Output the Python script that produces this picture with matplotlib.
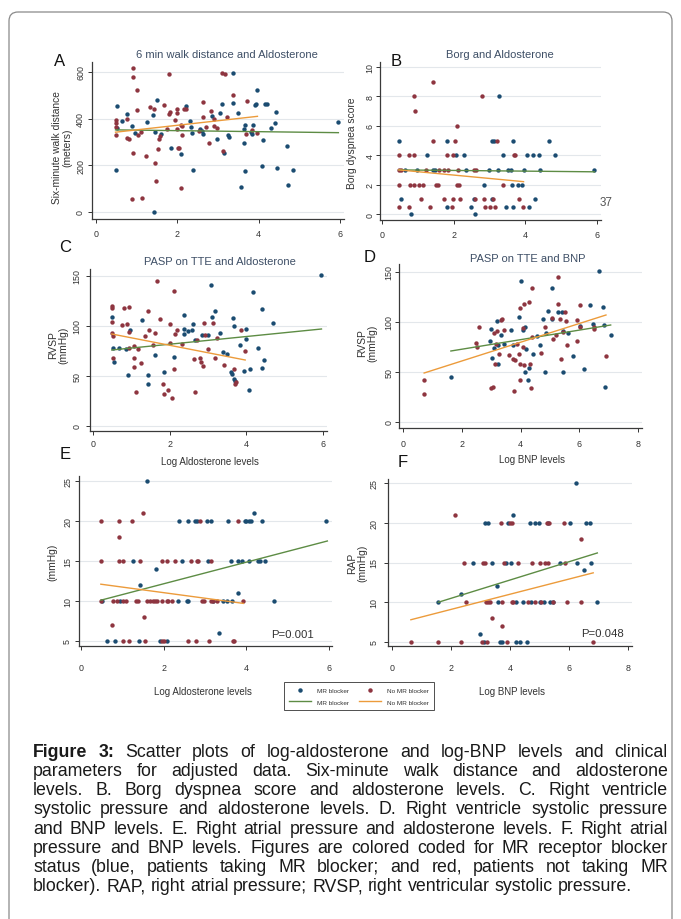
import matplotlib
matplotlib.use("Agg")
import matplotlib.pyplot as plt
from matplotlib.lines import Line2D
from matplotlib.patches import FancyBboxPatch

plt.rcParams["font.family"] = ["Liberation Sans", "DejaVu Sans"]

BLUE, RED = "#1b4c71", "#8e3540"
GREEN, ORANGE = "#5d8c44", "#ec9b3b"
TXT, TITLE = "#333333", "#3e4f66"
W, H = 681, 920

# ---- data (x = log level, y = clinical value) ----
a_mr = [(0.52, 454), (0.48, 179), (0.51, 361), (0.65, 390), (0.75, 421), (0.89, 369), (0.96, 340),
        (1.26, 386), (1.41, 416), (1.49, 479), (1.44, 344), (1.42, 1), (1.61, 333), (1.84, 273),
        (2.10, 247), (2.22, 454), (2.30, 390), (2.34, 364), (2.35, 340), (2.38, 180), (2.56, 354),
        (2.60, 347), (2.62, 333), (2.85, 411), (2.98, 314), (3.05, 423), (3.09, 464), (3.15, 254),
        (3.24, 329), (3.26, 323), (3.36, 469), (3.38, 597), (3.48, 426), (3.57, 107), (3.64, 297),
        (3.67, 371), (3.66, 174), (3.65, 354), (3.82, 343), (3.83, 333), (3.85, 371), (3.91, 457),
        (3.93, 463), (3.97, 523), (4.07, 197), (4.10, 309), (4.16, 464), (4.21, 464), (4.30, 361),
        (4.40, 380), (4.43, 429), (4.44, 190), (4.69, 283), (4.71, 114), (4.85, 179), (5.96, 387)]
a_no = [(0.48, 394), (0.48, 383), (0.48, 364), (0.49, 330), (0.75, 397), (0.77, 319), (0.80, 311),
        (0.92, 619), (0.92, 579), (0.92, 251), (0.89, 57), (1.02, 521), (1.02, 437), (1.03, 330),
        (1.10, 344), (1.14, 60), (1.23, 240), (1.33, 450), (1.43, 440), (1.45, 211), (1.48, 133),
        (1.53, 269), (1.56, 314), (1.57, 326), (1.66, 459), (1.74, 354), (1.80, 590), (1.82, 430),
        (1.80, 419), (1.95, 394), (1.98, 440), (2.00, 423), (2.02, 276), (2.05, 276), (1.98, 357),
        (2.10, 374), (2.12, 330), (2.16, 443), (2.21, 440), (2.08, 104), (2.11, 369), (2.54, 347),
        (2.62, 471), (2.64, 409), (2.70, 366), (2.78, 294), (2.83, 433), (2.89, 400), (2.90, 369),
        (2.97, 361), (3.11, 594), (3.17, 590), (3.13, 261), (3.21, 409), (3.38, 500), (3.72, 476),
        (3.70, 333), (3.83, 351), (3.97, 340)]
a_fit_mr = [(0.48, 352), (5.96, 340)]
a_fit_no = [(0.48, 342), (3.97, 410)]

b_mr = [(0.47, 5), (0.53, 1), (0.65, 3), (0.82, 0), (0.98, 3), (1.26, 4), (1.42, 3), (1.48, 3),
        (1.81, 5), (1.81, 0.5), (2.07, 4), (2.30, 4), (2.35, 3), (2.49, 0.5), (2.56, 1), (2.60, 0),
        (2.84, 2), (2.98, 3), (3.07, 5), (3.13, 5), (3.07, 1), (3.26, 8), (3.23, 3), (3.37, 4),
        (3.47, 0.5), (3.51, 3), (3.60, 3), (3.65, 5), (3.66, 0.5), (3.63, 2), (3.79, 2), (3.91, 2),
        (3.97, 3), (4.05, 4), (4.09, 0.5), (4.20, 4), (4.28, 1), (4.37, 4), (4.42, 3), (4.67, 5),
        (4.84, 4), (5.93, 3)]
b_no = [(0.47, 4), (0.47, 3), (0.52, 3), (0.47, 2), (0.47, 0.5), (0.75, 4), (0.88, 4), (0.90, 8),
        (0.91, 7), (0.79, 2), (0.90, 2), (1.02, 2), (1.14, 2), (1.10, 1), (0.74, 0.5), (1.33, 0.5),
        (1.24, 3), (1.43, 9), (1.43, 5), (1.51, 2), (1.56, 2), (1.72, 1), (1.80, 4), (1.83, 3),
        (1.95, 0.5), (1.98, 4), (1.98, 1), (2.05, 5), (2.09, 6), (2.09, 2), (2.14, 2), (2.19, 1),
        (2.11, 3), (2.59, 1), (2.62, 3), (2.79, 8), (2.84, 1), (2.88, 0.5), (3.02, 0.5), (3.16, 0.5),
        (3.09, 1), (3.21, 5), (3.38, 2), (3.67, 4), (3.72, 4), (3.83, 1), (3.93, 0.5), (2.56, 3),
        (1.72, 3), (1.60, 3)]
b_fit_mr = [(0.47, 3.0), (5.93, 2.87)]
b_fit_no = [(0.47, 3.0), (3.95, 2.2)]

c_mr = [(0.49, 109), (0.53, 78), (0.56, 64), (0.67, 78), (0.86, 77), (0.97, 96), (0.90, 51),
        (1.27, 106), (1.43, 51), (1.43, 42), (1.63, 71), (1.85, 54), (2.10, 69), (2.38, 111),
        (2.37, 97), (2.37, 92), (2.47, 95), (2.57, 96), (2.62, 102), (2.66, 86), (2.85, 91),
        (3.01, 91), (3.07, 141), (3.11, 109), (3.17, 115), (3.31, 93), (3.38, 74), (3.49, 72),
        (3.59, 54), (3.63, 52), (3.66, 108), (3.68, 100), (3.68, 47), (3.70, 45), (3.83, 81),
        (3.95, 55), (3.99, 97), (4.00, 87), (4.08, 36), (4.10, 57), (4.17, 134), (4.31, 78),
        (4.40, 117), (4.42, 58), (4.47, 66), (4.70, 103), (5.96, 151)]
c_no = [(0.49, 120), (0.49, 118), (0.50, 104), (0.50, 93), (0.51, 90), (0.51, 68), (0.76, 101),
        (0.82, 118), (0.89, 102), (0.95, 119), (0.95, 94), (0.95, 78), (1.06, 80), (1.06, 68),
        (1.06, 59), (1.12, 34), (1.17, 77), (1.24, 63), (1.36, 90), (1.44, 115), (1.47, 96),
        (1.57, 81), (1.61, 93), (1.66, 145), (1.75, 107), (1.83, 42), (1.85, 32), (1.96, 36),
        (2.00, 102), (2.02, 83), (2.05, 28), (2.10, 135), (2.11, 57), (2.14, 92), (2.18, 96),
        (2.31, 82), (2.63, 67), (2.66, 34), (2.70, 86), (2.90, 103), (2.79, 68), (2.83, 64),
        (2.88, 60), (2.92, 91), (3.01, 77), (3.14, 103), (3.18, 68), (3.24, 88), (3.42, 61),
        (3.69, 57), (3.71, 42), (3.72, 44), (3.86, 96), (3.97, 75)]
c_fit_mr = [(0.49, 76), (5.96, 97)]
c_fit_no = [(0.49, 92), (3.97, 66)]

d_mr = [(1.63, 45), (2.95, 81), (3.00, 93), (3.03, 64), (3.10, 74), (3.19, 101), (3.22, 58),
        (3.24, 77), (3.35, 87), (3.45, 78), (3.66, 92), (3.73, 77), (3.94, 105), (4.02, 141),
        (4.10, 92), (4.15, 95), (4.16, 50), (4.18, 73), (4.24, 42), (4.30, 54), (4.43, 68),
        (4.55, 86), (4.66, 77), (4.77, 103), (4.82, 50), (4.88, 89), (4.94, 111), (5.06, 134),
        (5.08, 103), (5.28, 110), (5.40, 110), (5.44, 50), (5.44, 91), (5.60, 89), (5.80, 66),
        (6.02, 96), (6.16, 53), (6.37, 117), (6.48, 98), (6.67, 151), (6.82, 115), (6.84, 97),
        (6.87, 35), (7.07, 87)]
d_no = [(0.72, 42), (0.72, 28), (2.49, 79), (2.51, 75), (2.58, 95), (2.99, 34), (3.08, 35),
        (3.10, 89), (3.14, 58), (3.17, 78), (3.19, 91), (3.26, 68), (3.33, 102), (3.38, 103),
        (3.43, 92), (3.62, 67), (3.76, 63), (3.78, 31), (3.81, 62), (3.87, 78), (3.96, 68),
        (3.98, 114), (3.99, 42), (4.07, 75), (4.08, 94), (4.13, 118), (4.13, 57), (4.30, 120),
        (4.32, 58), (4.35, 34), (4.38, 134), (4.39, 85), (4.69, 69), (4.84, 95), (5.08, 104),
        (5.12, 83), (5.21, 87), (5.29, 145), (5.29, 118), (5.34, 103), (5.38, 63), (5.44, 90),
        (5.52, 110), (5.55, 101), (5.57, 77), (5.93, 81), (5.94, 102), (6.02, 95), (6.02, 117),
        (6.50, 93), (6.50, 95), (6.91, 66), (3.98, 58)]
d_fit_mr = [(1.63, 71), (7.07, 97)]
d_fit_no = [(0.72, 49), (6.91, 107)]

e_mr = [(0.52, 10), (0.64, 5), (0.83, 5), (0.94, 10), (1.26, 15), (1.41, 5), (1.43, 12), (1.60, 25),
        (1.81, 14), (1.91, 5), (2.07, 5), (2.35, 10), (2.38, 20), (2.45, 15), (2.56, 10), (2.58, 20),
        (2.60, 10), (2.76, 20), (2.80, 20), (3.06, 20), (3.08, 15), (3.15, 20), (3.20, 10), (3.35, 6),
        (3.44, 10), (3.54, 10), (3.56, 20), (3.63, 15), (3.66, 10), (3.81, 11), (3.81, 15), (3.89, 15),
        (3.97, 20), (4.00, 20), (4.06, 20), (4.06, 15), (4.12, 20), (4.19, 21), (4.28, 15), (4.34, 15),
        (4.39, 20), (4.44, 15), (4.67, 10), (5.92, 20)]
e_no = [(0.48, 20), (0.48, 15), (0.48, 10), (0.74, 7), (0.77, 10), (0.86, 10), (0.91, 20), (0.92, 18),
        (0.92, 15), (1.02, 15), (1.02, 10), (1.02, 5), (1.10, 10), (1.15, 5), (1.23, 20), (1.33, 10),
        (1.39, 10), (1.43, 15), (1.49, 21), (1.52, 8), (1.55, 5), (1.59, 10), (1.67, 10), (1.73, 10),
        (1.79, 10), (1.83, 10), (1.97, 15), (1.95, 10), (1.95, 5), (2.00, 5), (2.07, 10), (2.07, 15),
        (2.11, 10), (2.19, 10), (2.27, 15), (2.60, 5), (2.66, 15), (2.78, 5), (2.80, 15), (2.84, 15),
        (2.88, 20), (2.92, 10), (2.97, 10), (3.10, 5), (3.15, 15), (3.15, 10), (3.19, 10), (3.28, 10),
        (3.67, 5), (3.70, 5), (3.81, 20), (3.93, 10)]
e_fit_mr = [(0.48, 10.1), (5.96, 17.5)]
e_fit_no = [(0.48, 12.1), (3.93, 9.7)]

f_mr = [(1.57, 10), (2.34, 11), (2.75, 15), (2.98, 6), (3.12, 5), (3.15, 20), (3.27, 20), (3.38, 15),
        (3.55, 12), (3.60, 10), (3.66, 5), (3.74, 5), (3.86, 15), (3.94, 20), (4.03, 15), (4.11, 21),
        (4.20, 5), (4.22, 10), (4.34, 5), (4.43, 10), (4.57, 5), (4.68, 20), (4.70, 10), (4.85, 20),
        (4.98, 20), (5.00, 10), (5.15, 10), (5.30, 20), (5.36, 10), (5.45, 10), (5.69, 15), (6.03, 20),
        (6.24, 25), (6.28, 15), (6.51, 14), (6.58, 20), (6.71, 20), (6.73, 15), (6.96, 10)]
f_no = [(0.64, 5), (1.57, 5), (2.14, 21), (2.34, 5), (2.44, 15), (2.51, 10), (3.04, 5), (3.10, 15),
        (3.14, 15), (3.17, 10), (3.21, 5), (3.27, 10), (3.33, 10), (3.38, 8), (3.68, 20), (3.72, 7),
        (3.72, 10), (3.80, 15), (3.89, 5), (4.00, 20), (4.06, 20), (4.06, 10), (4.11, 10), (4.28, 15),
        (4.62, 10), (4.76, 15), (4.85, 10), (5.00, 15), (5.04, 10), (5.19, 15), (5.24, 20), (5.30, 15),
        (5.33, 20), (5.47, 10), (5.83, 20), (5.86, 15), (5.92, 10), (6.40, 18), (6.40, 10), (6.82, 5)]
f_fit_mr = [(1.57, 10.0), (6.96, 16.2)]
f_fit_no = [(0.64, 7.8), (6.82, 13.7)]

aldo_ticks = [0, 2, 4, 6]
bnp_ticks = [0, 2, 4, 6, 8]

fig = plt.figure(figsize=(W / 100, H / 100), dpi=100)
bg = fig.add_axes([0, 0, 1, 1])
bg.set_xlim(0, W); bg.set_ylim(H, 0); bg.axis("off")
bg.add_patch(FancyBboxPatch((9, 13), 663, 960, boxstyle="round,pad=0,rounding_size=9",
                            fill=False, edgecolor="#8a8a8a", linewidth=0.9))


def panel(left, right, top, bottom, xa, xb, ya, yb):
    """axes placed in pixels; xa/xb/ya/yb = (data value, pixel) pairs"""
    ax = fig.add_axes([left / W, 1 - bottom / H, (right - left) / W, (bottom - top) / H])
    sx = (xb[1] - xa[1]) / (xb[0] - xa[0])
    sy = (yb[1] - ya[1]) / (yb[0] - ya[0])
    ax.set_xlim(xa[0] + (left - xa[1]) / sx, xa[0] + (right - xa[1]) / sx)
    ax.set_ylim(ya[0] + (bottom - ya[1]) / sy, ya[0] + (top - ya[1]) / sy)
    return ax


def draw(ax, mr, no, fit_mr, fit_no, xt, yt, xpad, ypad):
    ax.set_facecolor("none")
    for s in ("top", "right"):
        ax.spines[s].set_visible(False)
    for s in ("left", "bottom"):
        ax.spines[s].set_color("#3a3a3a"); ax.spines[s].set_linewidth(0.9)
    ax.set_xticks(xt); ax.set_yticks(yt)
    ax.set_yticklabels([str(v) for v in yt], rotation=90, va="center")
    ax.tick_params(axis="x", length=3, width=0.7, labelsize=6.4, colors=TXT, pad=xpad)
    ax.tick_params(axis="y", length=3, width=0.7, labelsize=6.4, colors=TXT, pad=ypad)
    ax.grid(axis="y", color="#e3e7eb", linewidth=0.8)
    ax.set_axisbelow(True)
    ax.scatter(*zip(*mr), s=10, color=BLUE, linewidths=0, zorder=3)
    ax.scatter(*zip(*no), s=10, color=RED, linewidths=0, zorder=3)
    ax.plot(*zip(*fit_mr), color=GREEN, lw=1.0, zorder=4)
    ax.plot(*zip(*fit_no), color=ORANGE, lw=1.0, zorder=4)


axA = panel(92, 344, 63, 220, (0, 96), (6, 340), (0, 213), (600, 73))
draw(axA, a_mr, a_no, a_fit_mr, a_fit_no, aldo_ticks, [0, 200, 400, 600], 4, 2)
axB = panel(380, 601, 63, 221, (0, 382), (6, 597), (0, 215), (10, 68))
draw(axB, b_mr, b_no, b_fit_mr, b_fit_no, aldo_ticks, [0, 2, 4, 6, 8, 10], 4, 1)
axC = panel(90, 327, 270, 432, (0, 93), (6, 323), (0, 427), (150, 277))
draw(axC, c_mr, c_no, c_fit_mr, c_fit_no, aldo_ticks, [0, 50, 100, 150], 3, 3)
axD = panel(399, 642, 265, 429, (0, 403), (8, 638), (0, 423), (150, 273))
draw(axD, d_mr, d_no, d_fit_mr, d_fit_no, bnp_ticks, [0, 50, 100, 150], 5, 1)
axE = panel(79, 332, 477, 647, (0, 81), (6, 329), (5, 642), (25, 482))
draw(axE, e_mr, e_no, e_fit_mr, e_fit_no, aldo_ticks, [5, 10, 15, 20, 25], 9, 2)
axF = panel(388, 632, 480, 647, (0, 392), (8, 628), (5, 643), (25, 484))
draw(axF, f_mr, f_no, f_fit_mr, f_fit_no, bnp_ticks, [5, 10, 15, 20, 25], 9, 4)

# titles, letters, labels (pixel positions on the background axes)
for x, y, s in [(227, 55, "6 min walk distance and Aldosterone"), (500, 55, "Borg and Aldosterone"),
                (220, 262, "PASP on TTE and Aldosterone"), (528, 259, "PASP on TTE and BNP")]:
    bg.text(x, y, s, ha="center", va="center", fontsize=8.0, color=TITLE)
for x, y, s in [(60, 62, "A"), (396, 61, "B"), (65, 247, "C"), (370, 258, "D"),
                (65, 455, "E"), (403, 463, "F")]:
    bg.text(x, y, s, ha="center", va="center", fontsize=12, color="#111111")
for x, y, s in [(62, 148, "Six-minute walk distance\n(meters)"), (352, 143, "Borg dyspnea score"),
                (58, 345, "RVSP\n(mmHg)"), (367, 343, "RVSP\n(mmHg)"), (52, 562, "(mmHg)"),
                (357, 563, "RAP\n(mmHg)")]:
    bg.text(x, y, s, ha="center", va="center", rotation=90, fontsize=7.4, color=TXT,
            linespacing=1.05)
for x, y, s in [(210, 462, "Log Aldosterone levels"), (532, 460, "Log BNP levels"),
                (203, 692, "Log Aldosterone levels"), (512, 692, "Log BNP levels")]:
    bg.text(x, y, s, ha="center", va="center", fontsize=7.0, color=TXT)
bg.text(292, 635, "P=0.001", ha="center", va="center", fontsize=8.2, color=TXT)
bg.text(603, 634, "P=0.048", ha="center", va="center", fontsize=8.2, color=TXT)
bg.text(606, 203, "37", ha="center", va="center", fontsize=8.4, color="#555555")

handles = [Line2D([], [], ls="none", marker="o", ms=2.2, color=BLUE),
           Line2D([], [], color=GREEN, lw=1.0),
           Line2D([], [], ls="none", marker="o", ms=2.2, color=RED),
           Line2D([], [], color=ORANGE, lw=1.0)]
leg = fig.legend(handles, ["MR blocker", "MR blocker", "No MR blocker", "No MR blocker"],
                 ncol=2, loc="center", bbox_to_anchor=(359 / W, 1 - 697 / H), fontsize=4.6,
                 numpoints=1, frameon=True, fancybox=False, edgecolor="#222222",
                 handlelength=3.4, handletextpad=0.9, columnspacing=1.6, labelspacing=1.0,
                 borderpad=0.8)
leg.get_frame().set_linewidth(0.7)
for t in leg.get_texts():
    t.set_color(TXT)

# caption, justified
caption = [
    "Figure 3: Scatter plots of log-aldosterone and log-BNP levels and clinical",
    "parameters for adjusted data. Six-minute walk distance and aldosterone",
    "levels. B. Borg dyspnea score and aldosterone levels. C. Right ventricle",
    "systolic pressure and aldosterone levels. D. Right ventricle systolic pressure",
    "and BNP levels. E. Right atrial pressure and aldosterone levels. F. Right atrial",
    "pressure and BNP levels. Figures are colored coded for MR receptor blocker",
    "status (blue, patients taking MR blocker; and red, patients not taking MR",
    "blocker). RAP, right atrial pressure; RVSP, right ventricular systolic pressure.",
]
L, R, y0, dy, fs = 33, 668, 757, 19.15, 12.8
rend = fig.canvas.get_renderer()
for i, line in enumerate(caption):
    words = line.split(" ")
    objs = []
    for j, w in enumerate(words):
        bold = (i == 0 and j < 2)
        objs.append(bg.text(0, 0, w, fontsize=fs, va="baseline", ha="left", color="#1a1a1a",
                            weight="bold" if bold else "normal"))
    widths = [t.get_window_extent(rend).width for t in objs]
    if i == len(caption) - 1:
        gap = fs * 100 / 72 * 0.278
    else:
        gap = (R - L - sum(widths)) / (len(words) - 1)
    x = L
    for t, wd in zip(objs, widths):
        t.set_position((x, y0 + i * dy))
        x += wd + gap

fig.savefig("out.png", dpi=100, facecolor="white")
